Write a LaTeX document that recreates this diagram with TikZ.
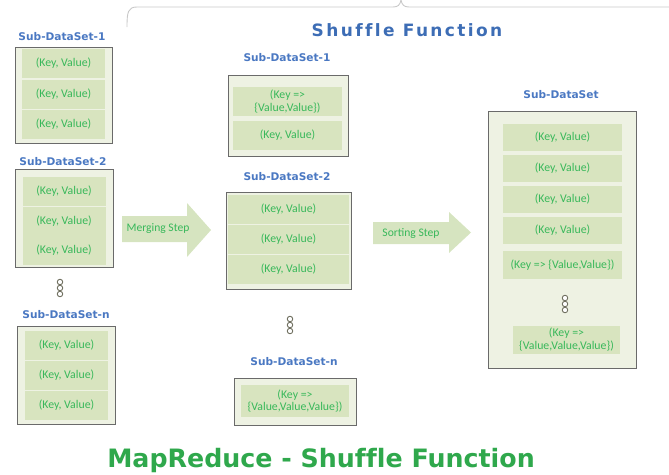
\documentclass[tikz,border=0pt]{standalone}
\usepackage{fontspec}
\setmainfont{Carlito}
\newfontfamily\headfont{DejaVu Sans}[Ligatures=NoCommon]

\definecolor{boxline}{HTML}{6A6A6A}
\definecolor{boxfill}{HTML}{EEF2E3}
\definecolor{cellfill}{HTML}{D8E4BF}
\definecolor{kvgreen}{HTML}{38B85A}
\definecolor{labelblue}{HTML}{4A78C2}
\definecolor{titleblue}{HTML}{3D6DB5}
\definecolor{titlegreen}{HTML}{2FA84C}
\definecolor{arrowfill}{HTML}{D6E4C0}
\definecolor{dotgray}{HTML}{707060}
\definecolor{bracegray}{HTML}{C8C8C8}

\tikzset{
  setbox/.style={draw=boxline, line width=1.3pt, fill=boxfill, inner sep=0pt, anchor=north west},
  cell/.style={fill=cellfill, text=kvgreen, inner sep=0pt, align=center,
    font=\fontsize{11.8}{12.5}\selectfont},
  setlabel/.style={text=labelblue, inner sep=0pt,
    font=\headfont\bfseries\fontsize{10.6}{12}\selectfont},
  dot/.style={circle, draw=dotgray, line width=0.9pt, fill=white, inner sep=0pt, minimum size=5.5pt},
  blockarrow/.style={fill=arrowfill},
  arrowtext/.style={text=kvgreen, inner sep=0pt, font=\fontsize{11.6}{12}\selectfont},
}

\begin{document}
\begin{tikzpicture}[x=1pt, y=-1pt]
\useasboundingbox (0,0) rectangle (669,474);

% brace over the shuffle part
\draw[bracegray, line width=0.9pt]
  (127,27) .. controls (127,12) and (128,7) .. (137,7) -- (393,7)
  .. controls (398,7) and (400,5) .. (401,0)
  .. controls (402,5) and (404,7) .. (409,7) -- (669,7);

% titles
\node[text=titleblue, anchor=base, inner sep=0pt,
  font=\headfont\bfseries\fontsize{17}{20}\selectfont\addfontfeatures{LetterSpace=14}]
  (shuffletitle) at (407,36) {Shuffle Function};
\node[text=titlegreen, anchor=base, inner sep=0pt,
  font=\headfont\bfseries\fontsize{25.3}{28}\selectfont]
  (maintitle) at (321,467) {MapReduce - Shuffle Function};

% ---------- mapper outputs ----------
\node[setlabel] (lab1) at (62,37) {Sub-DataSet-1};
\node[setbox, minimum width=97pt, minimum height=96pt] (set1) at (15,47) {};
\foreach \y [count=\i] in {63.5,94,124}
  \node[cell, minimum width=83pt, minimum height=29pt] (set1c\i) at (63.5,\y) {(Key, Value)};

\node[setlabel] (lab2) at (63,162) {Sub-DataSet-2};
\node[setbox, minimum width=98pt, minimum height=98pt] (set2) at (15,169) {};
\foreach \y [count=\i] in {191.5,221,250.5}
  \node[cell, minimum width=83pt, minimum height=29pt] (set2c\i) at (64,\y) {(Key, Value)};

\node[dot] (ld1) at (60,282) {};
\node[dot] (ld2) at (60,288) {};
\node[dot] (ld3) at (60,294) {};

\node[setlabel] (labn) at (66,315) {Sub-DataSet-n};
\node[setbox, minimum width=98pt, minimum height=98pt] (setn) at (17,326) {};
\foreach \y [count=\i] in {345,375,405}
  \node[cell, minimum width=83pt, minimum height=29pt] (setnc\i) at (66.5,\y) {(Key, Value)};

% ---------- merging step ----------
\fill[blockarrow] (122,216) -- (187,216) -- (187,203) -- (211,230)
  -- (187,257) -- (187,242) -- (122,242) -- cycle;
\node[arrowtext] (merge) at (158,229) {Merging Step};

% ---------- merged sets ----------
\node[setlabel] (mlab1) at (287,58) {Sub-DataSet-1};
\node[setbox, minimum width=120pt, minimum height=81pt] (mset1) at (228,75) {};
\node[cell, minimum width=109pt, minimum height=29pt] (mset1c1) at (287.5,101.5)
  {(Key =>\\\{Value,Value\})};
\node[cell, minimum width=109pt, minimum height=29pt] (mset1c2) at (287.5,135.5) {(Key, Value)};

\node[setlabel] (mlab2) at (287,177) {Sub-DataSet-2};
\node[setbox, minimum width=125pt, minimum height=97pt] (mset2) at (226,192) {};
\foreach \y [count=\i] in {209.5,239.5,269.5}
  \node[cell, minimum width=121pt, minimum height=29pt] (mset2c\i) at (288.5,\y) {(Key, Value)};

\node[dot] (md1) at (290,319) {};
\node[dot] (md2) at (290,325) {};
\node[dot] (md3) at (290,331) {};

\node[setlabel] (mlabn) at (294,362) {Sub-DataSet-n};
\node[setbox, minimum width=122pt, minimum height=47pt] (msetn) at (234,378) {};
\node[cell, minimum width=108pt, minimum height=32pt] (msetnc1) at (295,401)
  {(Key =>\\\{Value,Value,Value\})};

% ---------- sorting step ----------
\fill[blockarrow] (373,222) -- (449,222) -- (449,212) -- (471,232.5)
  -- (449,253) -- (449,244) -- (373,244) -- cycle;
\node[arrowtext] (sort) at (411,233) {Sorting Step};

% ---------- sorted set ----------
\node[setlabel] (rlab) at (561,95) {Sub-DataSet};
\node[setbox, minimum width=148pt, minimum height=257pt] (rset) at (488,111) {};
\foreach \y [count=\i] in {137.5,168.5,199.5,230}
  \node[cell, minimum width=119pt, minimum height=27pt] (rsetc\i) at (562.5,\y) {(Key, Value)};
\node[cell, minimum width=119pt, minimum height=28pt] (rsetc5) at (562.5,265)
  {(Key => \{Value,Value\})};
\node[dot] (rd1) at (565,298) {};
\node[dot] (rd2) at (565,304) {};
\node[dot] (rd3) at (565,310) {};
\node[cell, minimum width=107pt, minimum height=28pt] (rsetc6) at (566.5,339.5)
  {(Key =>\\\{Value,Value,Value\})};
\end{tikzpicture}
\end{document}
